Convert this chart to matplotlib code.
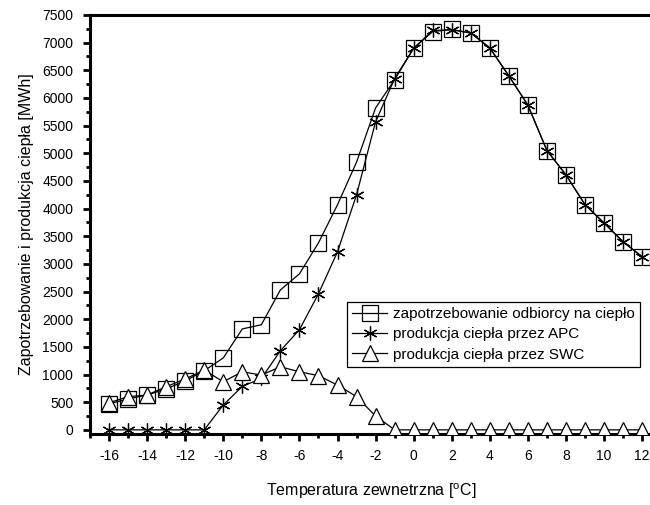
import matplotlib
matplotlib.use('Agg')
import matplotlib.pyplot as plt
from matplotlib.ticker import MultipleLocator

plt.rcParams['font.family'] = ['Liberation Sans', 'DejaVu Sans']
plt.rcParams['axes.unicode_minus'] = False

temp = list(range(-16, 13))

# zapotrzebowanie odbiorcy na cieplo
demand = [470, 560, 630, 740, 885, 1070, 1300, 1825, 1900, 2530, 2820, 3380, 4070, 4840,
          5820, 6330, 6900, 7200, 7240, 7170, 6910, 6400, 5870, 5050, 4610, 4070, 3740, 3400, 3130]
# produkcja ciepla przez APC
apc = [0, 0, 0, 0, 0, 0, 450, 785, 930, 1430, 1810, 2460, 3220, 4250,
       5570, 6350, 6900, 7220, 7230, 7180, 6900, 6400, 5870, 5050, 4610, 4070, 3740, 3400, 3130]
# produkcja ciepla przez SWC
swc = [490, 600, 630, 780, 920, 1080, 870, 1050, 990, 1140, 1050, 980, 810, 600,
       250, 0, 0, 0, 0, 0, 0, 0, 0, 0, 0, 0, 0, 0, 0]

labels = ['zapotrzebowanie odbiorcy na ciepło',
          'produkcja ciepła przez APC',
          'produkcja ciepła przez SWC']

fig = plt.figure(figsize=(6.5, 5.05), dpi=100)
ax = fig.add_axes([90/650, 1-434/505, 1-90/650+0.004, (434-15)/505])

ax.plot(temp, demand, color='black', lw=0.9, marker='s', ms=12,
        mfc='none', mec='black', mew=0.9, label=labels[0], zorder=3)
ax.plot(temp, apc, color='black', lw=0.9, marker=(6, 2, 0), ms=10,
        mec='black', mew=0.9, label=labels[1], zorder=4)
ax.plot(temp, swc, color='black', lw=0.9, marker='^', ms=11,
        mfc='white', mec='black', mew=0.9, label=labels[2], zorder=5)

ax.set_xlim(-17, 12.55)
ax.set_ylim(-75, 7500)
ax.xaxis.set_major_locator(MultipleLocator(2))
ax.xaxis.set_minor_locator(MultipleLocator(1))
ax.yaxis.set_major_locator(MultipleLocator(500))
ax.yaxis.set_minor_locator(MultipleLocator(250))

for s in ['left', 'bottom', 'top']:
    ax.spines[s].set_linewidth(2.2)
ax.spines['right'].set_visible(False)
ax.tick_params(which='major', direction='out', length=5, width=2, labelsize=10)
ax.tick_params(axis='y', which='major', pad=7)
ax.tick_params(axis='x', which='major', pad=6)
ax.tick_params(which='minor', direction='out', length=3, width=2)

ax.set_xlabel('Temperatura zewnetrzna [$^{\\mathregular{o}}$C]', fontsize=11.5, labelpad=13)
ax.set_ylabel('Zapotrzebowanie i produkcja ciepła [MWh]', fontsize=11.5, labelpad=6)

leg = ax.legend(loc='upper left', bbox_to_anchor=(347/650, 1-302/505),
                bbox_transform=fig.transFigure, borderaxespad=0, fontsize=11,
                frameon=True, fancybox=False, edgecolor='black', framealpha=1,
                handlelength=2.3, handletextpad=0.35, labelspacing=0.4,
                borderpad=0.35)
leg.get_frame().set_linewidth(0.9)

fig.savefig('out.png', dpi=100)
